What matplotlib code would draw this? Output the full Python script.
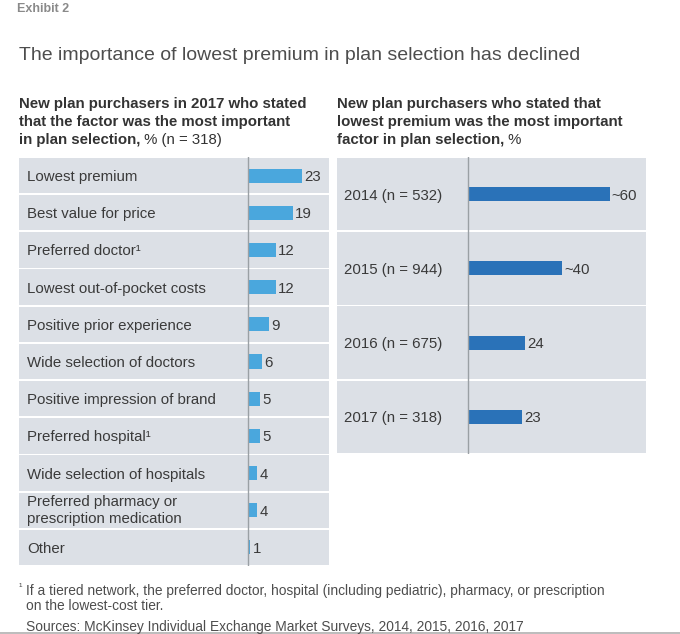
import matplotlib
matplotlib.use("Agg")
import matplotlib.pyplot as plt
from matplotlib.lines import Line2D

plt.rcParams['font.family'] = ['Liberation Sans', 'DejaVu Sans']

# ---- data ----
factors = ["Lowest premium", "Best value for price", "Preferred doctor\u00b9",
           "Lowest out-of-pocket costs", "Positive prior experience",
           "Wide selection of doctors", "Positive impression of brand",
           "Preferred hospital\u00b9", "Wide selection of hospitals",
           "Preferred pharmacy or\nprescription medication", "Other"]
factor_values = [23, 19, 12, 12, 9, 6, 5, 5, 4, 4, 1]
factor_labels = ["23", "19", "12", "12", "9", "6", "5", "5", "4", "4", "1"]

years = ["2014 (n = 532)", "2015 (n = 944)", "2016 (n = 675)", "2017 (n = 318)"]
year_values = [60, 40, 24, 23]
year_labels = ["~60", "~40", "24", "23"]

W, H = 680, 634
fig = plt.figure(figsize=(W / 100, H / 100), dpi=100)
fig.patch.set_facecolor("white")

BG = "#dce0e6"
LEFT_BAR = "#4aa7dd"
RIGHT_BAR = "#2a72b8"
DIV = "#9aa0a4"
TXT = "#3a3a3a"
FS = 10.8


def px_axes(x0, y0, x1, y1):
    return fig.add_axes([x0 / W, 1 - y1 / H, (x1 - x0) / W, (y1 - y0) / H])


def panel(ax, labels, values, vlabels, x0, x1, xdiv, scale, bar_h, bg_h, color, label_px):
    n = len(labels)
    xmin = -(xdiv - x0) / scale
    xmax = (x1 - xdiv) / scale
    ax.set_xlim(xmin, xmax)
    ax.set_ylim(n - 0.5, -0.5)
    ys = list(range(n))
    ax.barh(ys, [xmax - xmin] * n, left=xmin, height=bg_h, color=BG, zorder=0)
    ax.barh(ys, values, left=0, height=bar_h, color=color, zorder=2)
    ax.axvline(0, color=DIV, lw=1.0, zorder=3)
    lx = xmin + (label_px - x0) / scale
    for y, lab, v, vl in zip(ys, labels, values, vlabels):
        if "\n" in lab:
            ax.text(lx, y, lab, va="center", ha="left", fontsize=FS, color=TXT,
                    linespacing=1.3)
        else:
            ax.text(lx, y, lab, va="center_baseline", ha="left", fontsize=FS, color=TXT)
        ax.text(v + 0.9, y, vl, va="center_baseline", ha="left", fontsize=FS, color=TXT)
    ax.axis("off")


axL = px_axes(19, 157, 329, 566)
panel(axL, factors, factor_values, factor_labels, 19, 329, 248, 2.35, 0.38, 0.95,
      LEFT_BAR, 27)

axR = px_axes(337, 157, 646, 454)
panel(axR, years, year_values, year_labels, 337, 646, 468, 2.36, 0.19, 0.975,
      RIGHT_BAR, 344)

# ---- texts ----
def ft(x, y, s, **kw):
    kw.setdefault("va", "center_baseline")
    return fig.text(x / W, 1 - y / H, s, **kw)

ft(17, 8, "Exhibit 2", fontsize=9, color="#8a8a8a", fontweight="bold")
ft(19, 53, "The importance of lowest premium in plan selection has declined",
   fontsize=14.0, color="#4d4d4d")

SUB = dict(fontsize=FS, color="#333333", fontweight="bold", va="baseline")
ft(19, 108, "New plan purchasers in 2017 who stated", **SUB)
ft(19, 126, "that the factor was the most important", **SUB)
t1 = ft(19, 144, "in plan selection,", **SUB)
ft(337, 108, "New plan purchasers who stated that", **SUB)
ft(337, 126, "lowest premium was the most important", **SUB)
t2 = ft(337, 144, "factor in plan selection,", **SUB)

fig.canvas.draw()
renderer = fig.canvas.get_renderer()
for t, s in ((t1, " % (n = 318)"), (t2, " %")):
    bb = t.get_window_extent(renderer)
    fig.text(bb.x1 / W, t.get_position()[1], s, va="baseline", ha="left",
             fontsize=FS, color="#333333")

FN = dict(fontsize=9.9, color="#4d4d4d")
ft(19, 586, "\u00b9", fontsize=7.5, color="#4d4d4d")
ft(26, 590, "If a tiered network, the preferred doctor, hospital (including pediatric), pharmacy, or prescription", **FN)
ft(26, 605, "on the lowest-cost tier.", **FN)
ft(26, 625, "Sources: McKinsey Individual Exchange Market Surveys, 2014, 2015, 2016, 2017", **FN)

fig.add_artist(Line2D([0, 1], [1 - 633 / H, 1 - 633 / H], transform=fig.transFigure,
                      color="#b0b0b0", lw=1.2))

fig.savefig("out.png", dpi=100, facecolor="white")
